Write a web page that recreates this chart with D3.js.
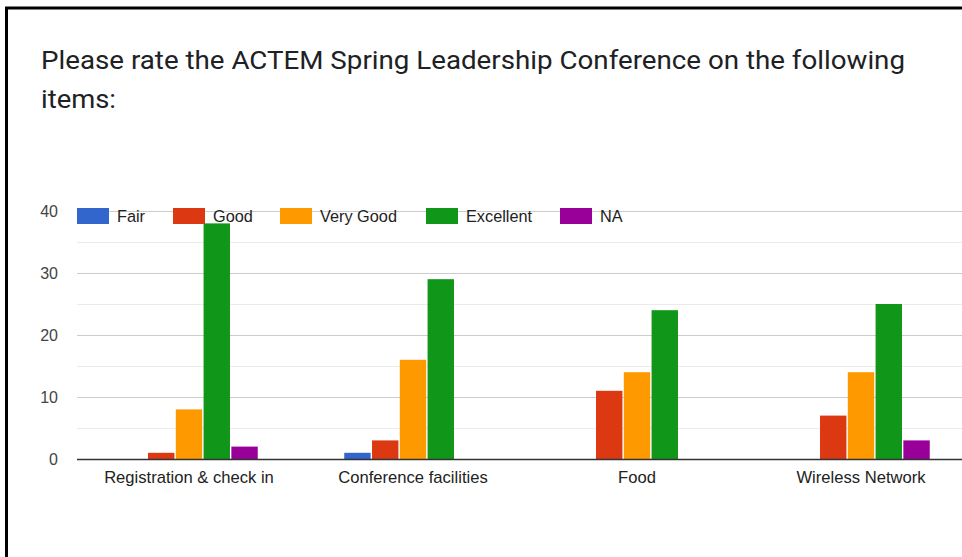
<!DOCTYPE html>
<html><head><meta charset="utf-8">
<script src="https://cdn.jsdelivr.net/npm/d3@7"></script>
<style>body{margin:0;background:#fff}svg{display:block}</style>
</head><body>
<script>
const categories = ["Registration & check in","Conference facilities","Food","Wireless Network"];
const seriesNames = ["Fair","Good","Very Good","Excellent","NA"];
const colors = ["#3366cc","#dc3912","#ff9900","#109618","#990099"];
const fair = [0,1,0,0];
const good = [1,3,11,7];
const veryGood = [8,16,14,14];
const excellent = [38,29,24,25];
const na = [2,0,0,3];
const yTicks = [0,10,20,30,40];
const seriesValues = [fair, good, veryGood, excellent, na];

const W=962,H=557;
const svg=d3.select("body").append("svg").attr("width",W).attr("height",H);
svg.append("rect").attr("x",6.5).attr("y",8).attr("width",W+10).attr("height",H+10)
  .attr("fill","#fff").attr("stroke","#000").attr("stroke-width",3);

const tfont="Roboto, Arial, sans-serif";
const font="'Liberation Sans', Arial, sans-serif";
svg.append("text").attr("x",41).attr("y",69).attr("font-family",tfont).attr("font-size",26.5).attr("fill","#202124")
  .attr("textLength",864).attr("lengthAdjust","spacingAndGlyphs")
  .text("Please rate the ACTEM Spring Leadership Conference on the following");
svg.append("text").attr("x",41).attr("y",108).attr("font-family",tfont).attr("font-size",26.5).attr("fill","#202124")
  .attr("textLength",75).attr("lengthAdjust","spacingAndGlyphs")
  .text("items:");

const pL=77,pR=973,pT=211,pB=459;
const x=d3.scaleBand().domain(categories).range([pL,pR]);
const y=d3.scaleLinear().domain([0,40]).range([pB,pT]);
const xs=d3.scaleBand().domain(seriesNames).range([0,137.5]).paddingInner(0.05);

const g=svg.append("g");
g.selectAll("line.minor").data([5,15,25,35]).join("line")
  .attr("x1",pL).attr("x2",W).attr("y1",d=>Math.round(y(d))+0.5).attr("y2",d=>Math.round(y(d))+0.5)
  .attr("stroke","#ebebeb");
g.selectAll("line.major").data(yTicks.slice(1)).join("line")
  .attr("x1",pL).attr("x2",W).attr("y1",d=>Math.round(y(d))+0.5).attr("y2",d=>Math.round(y(d))+0.5)
  .attr("stroke","#cccccc");

const yAxis=d3.axisLeft(y).tickValues(yTicks).tickSize(0).tickPadding(19);
const ya=svg.append("g").attr("transform",`translate(${pL},0)`).call(yAxis);
ya.select(".domain").remove();
ya.selectAll("text").attr("font-family",font).attr("font-size",16).attr("fill","#444");

categories.forEach((c,ci)=>{
  const gx=x(c)+x.bandwidth()/2-68.75;
  seriesNames.forEach((s,si)=>{
    const v=seriesValues[si][ci];
    if(v<=0) return;
    svg.append("rect").attr("x",gx+xs(s)).attr("width",xs.bandwidth())
      .attr("y",y(v)).attr("height",y(0)-y(v)).attr("fill",colors[si]);
  });
});

svg.append("line").attr("x1",pL).attr("x2",W).attr("y1",pB+0.5).attr("y2",pB+0.5).attr("stroke","#333").attr("stroke-width",1.5);

const xAxis=d3.axisBottom(x).tickSize(0).tickPadding(12.5);
const xa=svg.append("g").attr("transform",`translate(0,${pB})`).call(xAxis);
xa.select(".domain").remove();
xa.selectAll("text").attr("font-family",font).attr("font-size",16.6).attr("fill","#222");

const legX=[77,173,280,426,560];
const leg=svg.append("g");
seriesNames.forEach((s,i)=>{
  leg.append("rect").attr("x",legX[i]).attr("y",208).attr("width",32).attr("height",16).attr("fill",colors[i]);
  leg.append("text").attr("x",legX[i]+40).attr("y",222).attr("font-family",font).attr("font-size",16.3).attr("fill","#222").text(s);
});
</script>
</body></html>
